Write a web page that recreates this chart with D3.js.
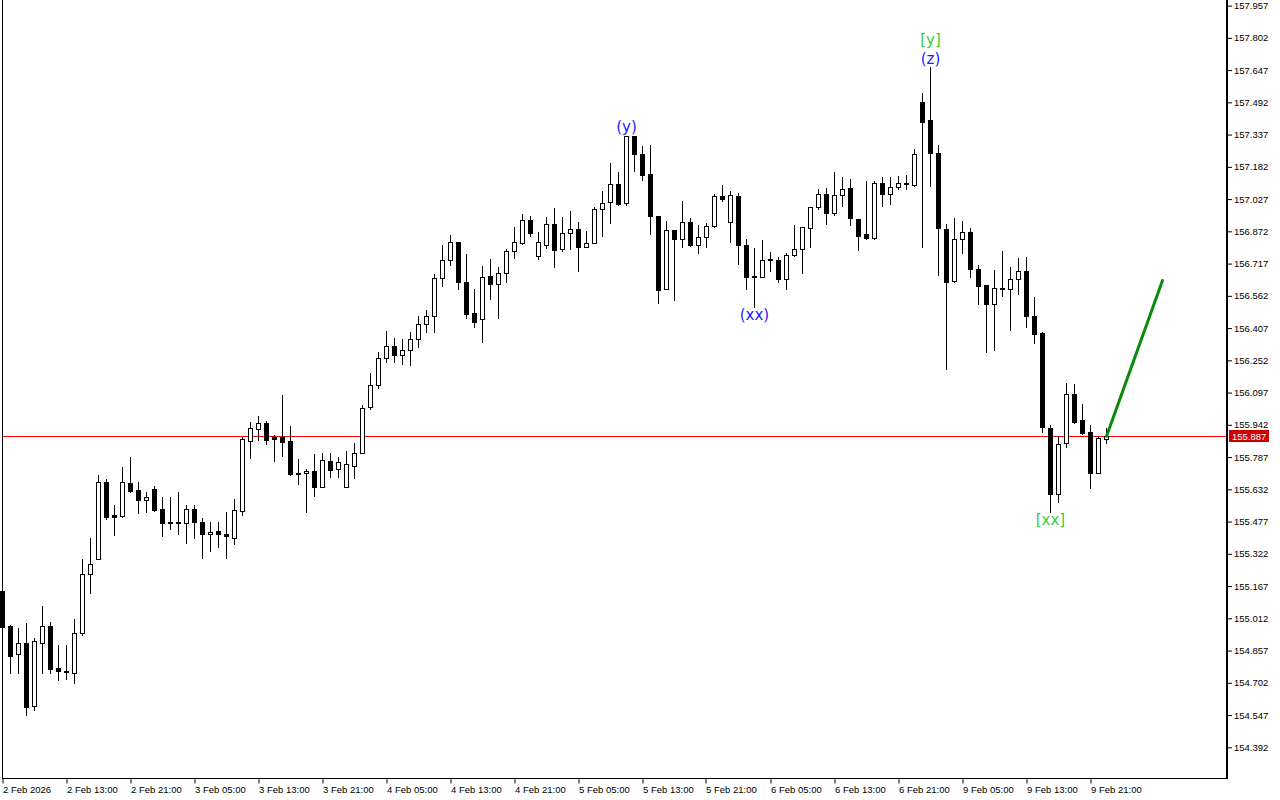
<!DOCTYPE html>
<html>
<head>
<meta charset="utf-8">
<script src="https://cdn.jsdelivr.net/npm/d3@7"></script>
<style>
html,body{margin:0;padding:0;background:#fff;}
svg{display:block;}
</style>
</head>
<body>
<svg id="chart" width="1280" height="800"></svg>
<script>
// ---- DATA (hourly candles) ----
const opens = [155.145,154.975,154.839,154.894,154.592,154.892,154.975,154.773,154.760,154.748,
154.940,155.224,155.296,155.667,155.509,155.504,155.663,155.629,155.579,155.634,
155.538,155.474,155.474,155.469,155.538,155.474,155.416,155.432,155.416,155.400,
155.530,155.866,155.921,155.950,155.884,155.884,155.864,155.711,155.709,155.720,
155.645,155.768,155.728,155.645,155.743,155.805,156.026,156.132,156.263,156.320,
156.276,156.300,156.353,156.425,156.464,156.646,156.733,156.819,156.627,156.478,
156.449,156.656,156.618,156.670,156.776,156.815,156.927,156.752,156.805,156.906,
156.786,156.863,156.882,156.795,156.815,156.978,157.012,157.098,157.007,157.329,
157.242,157.146,156.944,156.594,156.877,156.834,156.916,156.805,156.843,156.896,
157.040,156.916,157.042,156.805,156.656,156.654,156.738,156.733,156.642,156.757,
156.786,156.887,156.988,157.050,156.959,157.045,157.079,156.930,156.858,156.839,
157.103,157.050,157.083,157.103,157.096,157.492,157.406,157.247,156.882,156.632,
156.834,156.868,156.690,156.613,156.521,156.598,156.594,156.642,156.680,156.464,
156.382,155.926,155.608,155.853,156.089,155.964,155.906,155.709,155.873];
const highs = [155.158,154.980,154.964,154.990,154.918,155.073,154.995,154.884,154.884,155.009,
155.297,155.398,155.701,155.682,155.557,155.740,155.788,155.667,155.619,155.648,
155.595,155.595,155.619,155.557,155.557,155.496,155.474,155.474,155.522,155.586,
155.882,155.956,155.985,155.959,155.893,156.086,155.937,155.778,155.730,155.802,
155.807,155.807,155.786,155.815,155.856,156.038,156.190,156.291,156.393,156.361,
156.355,156.387,156.464,156.494,156.667,156.806,156.855,156.819,156.763,156.594,
156.704,156.738,156.699,156.786,156.893,156.955,156.946,156.868,156.941,156.983,
156.940,156.968,156.916,156.872,156.988,157.066,157.200,157.157,157.329,157.329,
157.281,157.285,156.944,156.920,156.877,157.016,156.935,156.901,156.911,157.050,
157.093,157.064,157.056,156.834,156.791,156.829,156.771,156.747,156.767,156.901,
156.892,156.988,157.074,157.079,157.156,157.132,157.122,156.930,157.112,157.112,
157.132,157.132,157.136,157.141,157.269,157.537,157.661,157.285,156.906,156.935,
156.920,156.887,156.709,156.613,156.685,156.776,156.699,156.743,156.747,156.555,
156.387,155.940,155.887,156.142,156.137,156.041,155.940,155.887,155.926];
const lows = [154.961,154.751,154.751,154.548,154.572,154.751,154.751,154.716,154.721,154.703,
154.933,155.135,155.296,155.491,155.414,155.499,155.621,155.520,155.525,155.528,
155.409,155.440,155.416,155.376,155.400,155.301,155.336,155.357,155.304,155.368,
155.510,155.784,155.871,155.852,155.770,155.792,155.701,155.659,155.525,155.602,
155.645,155.693,155.693,155.645,155.688,155.805,156.017,156.121,156.246,156.246,
156.236,156.231,156.318,156.390,156.390,156.611,156.712,156.596,156.457,156.410,
156.342,156.548,156.456,156.627,156.743,156.810,156.850,156.738,156.791,156.702,
156.779,156.786,156.683,156.795,156.815,156.851,156.914,156.999,156.997,157.160,
157.117,156.858,156.529,156.594,156.544,156.795,156.800,156.767,156.795,156.892,
157.016,156.819,156.714,156.594,156.510,156.651,156.680,156.627,156.594,156.752,
156.670,156.795,156.978,156.906,156.949,156.992,156.901,156.781,156.834,156.834,
156.992,157.002,157.074,157.074,157.091,156.795,157.088,156.661,156.209,156.627,
156.767,156.651,156.521,156.291,156.300,156.560,156.397,156.570,156.412,156.334,
155.909,155.522,155.570,155.834,155.952,155.900,155.637,155.709,155.853];
const closes = [154.972,154.833,154.892,154.587,154.903,154.975,154.769,154.758,154.753,154.942,
155.224,155.272,155.667,155.499,155.501,155.667,155.626,155.581,155.593,155.533,
155.469,155.469,155.470,155.538,155.474,155.416,155.426,155.416,155.407,155.533,
155.873,155.926,155.950,155.871,155.876,155.861,155.706,155.707,155.720,155.645,
155.772,155.727,155.764,155.752,155.805,156.022,156.134,156.262,156.320,156.276,
156.300,156.353,156.425,156.464,156.646,156.733,156.819,156.627,156.476,156.435,
156.651,156.618,156.670,156.776,156.819,156.927,156.863,156.819,156.906,156.784,
156.863,156.882,156.795,156.815,156.978,157.007,157.098,157.004,157.329,157.242,
157.144,156.947,156.592,156.877,156.834,156.916,156.805,156.843,156.896,157.040,
157.026,157.045,156.805,156.651,156.651,156.733,156.733,156.642,156.757,156.786,
156.892,156.988,157.050,156.959,157.045,157.074,156.935,156.848,156.839,157.103,
157.050,157.083,157.103,157.098,157.242,157.396,157.247,156.887,156.627,156.834,
156.868,156.690,156.608,156.521,156.598,156.594,156.642,156.680,156.464,156.377,
155.930,155.608,155.849,156.089,155.957,155.904,155.709,155.877,155.887];

const priceTicks = [157.957,157.802,157.647,157.492,157.337,157.182,157.027,156.872,156.717,156.562,
156.407,156.252,156.097,155.942,155.787,155.632,155.477,155.322,155.167,155.012,154.857,154.702,154.547,154.392];
const timeTickIdx = [0,8,16,24,32,40,48,56,64,72,80,88,96,104,112,120,128,136];
const timeTickLabels = ["2 Feb 2026","2 Feb 13:00","2 Feb 21:00","3 Feb 05:00","3 Feb 13:00","3 Feb 21:00",
"4 Feb 05:00","4 Feb 13:00","4 Feb 21:00","5 Feb 05:00","5 Feb 13:00","5 Feb 21:00","6 Feb 05:00",
"6 Feb 13:00","6 Feb 21:00","9 Feb 05:00","9 Feb 13:00","9 Feb 21:00"];

const currentPrice = 155.887;
// wave labels: text, bar index, price anchor, colour group
const waveText = ["(y)","(xx)","(z)","[y]","[xx]"];
const waveIdx = [78,94,116,116,131];
const wavePrice = [157.373,156.468,157.700,157.792,155.485];
const waveGroup = ["minor","minor","minor","major","major"];
// projection line (index, price)
const projIdx = [138,145];
const projPrice = [155.887,156.636];

// ---- LAYOUT ----
const svg = d3.select("#chart");
const axisX = 1226.5;
const bottomY = 778.5;
const x = d3.scaleLinear().domain([0,138]).range([2.5,1106.5]);
const y = d3.scaleLinear().domain([154.392,157.957]).range([747.3,5.6]);
const FONT = "'Liberation Sans', Arial, sans-serif";

svg.append("rect").attr("width",1280).attr("height",800).attr("fill","#fff");

const plot = svg.append("g");
plot.append("defs").append("clipPath").attr("id","clip")
  .append("rect").attr("x",0).attr("y",0).attr("width",1226).attr("height",778);

const gC = plot.append("g").attr("clip-path","url(#clip)");

// current price line
gC.append("line")
  .attr("x1",2).attr("x2",axisX)
  .attr("y1",Math.round(y(currentPrice))+0.5).attr("y2",Math.round(y(currentPrice))+0.5)
  .attr("stroke","#ff0000").attr("stroke-width",1);

const candles = d3.range(opens.length).map(i=>({i,o:opens[i],h:highs[i],l:lows[i],c:closes[i]}));

// wicks
gC.selectAll("line.wick").data(candles).join("line").attr("class","wick")
  .attr("x1",d=>x(d.i)).attr("x2",d=>x(d.i))
  .attr("y1",d=>Math.round(y(d.h))).attr("y2",d=>Math.round(y(d.l))+1)
  .attr("stroke","#000").attr("stroke-width",1).attr("shape-rendering","crispEdges");

// bodies
candles.forEach(d=>{
  const top = Math.round(y(Math.max(d.o,d.c)))+0.5;
  const bot = Math.round(y(Math.min(d.o,d.c)))+0.5;
  const up = d.c >= d.o;
  if (bot - top < 1) {
    gC.append("line").attr("x1",x(d.i)-2.5).attr("x2",x(d.i)+2.5)
      .attr("y1",top).attr("y2",top).attr("stroke","#000").attr("stroke-width",1);
  } else {
    gC.append("rect").attr("x",x(d.i)-2).attr("width",4)
      .attr("y",top).attr("height",bot-top)
      .attr("fill",up?"#fff":"#000").attr("stroke","#000").attr("stroke-width",1);
  }
});

// projection line
gC.append("line")
  .attr("x1",x(projIdx[0])).attr("y1",y(projPrice[0]))
  .attr("x2",x(projIdx[1])).attr("y2",y(projPrice[1]))
  .attr("stroke","#0a8a0a").attr("stroke-width",3).attr("stroke-linecap","round");

// wave labels
waveText.forEach((t,k)=>{
  gC.append("text").text(t)
    .attr("x",x(waveIdx[k])).attr("y",y(wavePrice[k]))
    .attr("text-anchor","middle").attr("dominant-baseline","central")
    .attr("font-family","'DejaVu Sans', sans-serif").attr("font-size",15)
    .attr("fill",waveGroup[k]==="minor"?"#1c1cff":"#3ccc3c");
});

// frame
svg.append("line").attr("x1",2.5).attr("x2",2.5).attr("y1",0).attr("y2",bottomY)
  .attr("stroke","#000").attr("stroke-width",1);
svg.append("line").attr("x1",2).attr("x2",axisX+1).attr("y1",bottomY).attr("y2",bottomY)
  .attr("stroke","#000").attr("stroke-width",1);
svg.append("line").attr("x1",axisX+0.5).attr("x2",axisX+0.5).attr("y1",0).attr("y2",bottomY+0.5)
  .attr("stroke","#000").attr("stroke-width",2);

// price axis
const yAxis = d3.axisRight(y).tickValues(priceTicks).tickSize(4).tickPadding(2)
  .tickFormat(d3.format(".3f"));
const gy = svg.append("g").attr("transform",`translate(${axisX+1.5},0)`).call(yAxis);
gy.select(".domain").remove();
gy.selectAll(".tick line").attr("stroke","#000");
gy.selectAll(".tick text").attr("font-family",FONT).attr("font-size",9.5).attr("fill","#000");

// current price tag
const cpY = Math.round(y(currentPrice));
svg.append("rect").attr("x",1229).attr("y",cpY-6).attr("width",40).attr("height",12).attr("fill","#cc0000");
svg.append("text").text(d3.format(".3f")(currentPrice))
  .attr("x",1232).attr("y",cpY+0.5).attr("dominant-baseline","central")
  .attr("font-family",FONT).attr("font-size",9.5).attr("fill","#fff");

// time axis
const gx = svg.append("g");
timeTickIdx.forEach((ti,k)=>{
  const tx = Math.round(x(ti));
  gx.append("line").attr("x1",tx).attr("x2",tx).attr("y1",bottomY).attr("y2",bottomY+5)
    .attr("stroke","#000").attr("stroke-width",1);
  gx.append("text").text(timeTickLabels[k]).attr("x",tx).attr("y",bottomY+11)
    .attr("text-anchor","start").attr("dominant-baseline","central")
    .attr("font-family",FONT).attr("font-size",9.5).attr("fill","#000");
});
</script>
</body>
</html>
